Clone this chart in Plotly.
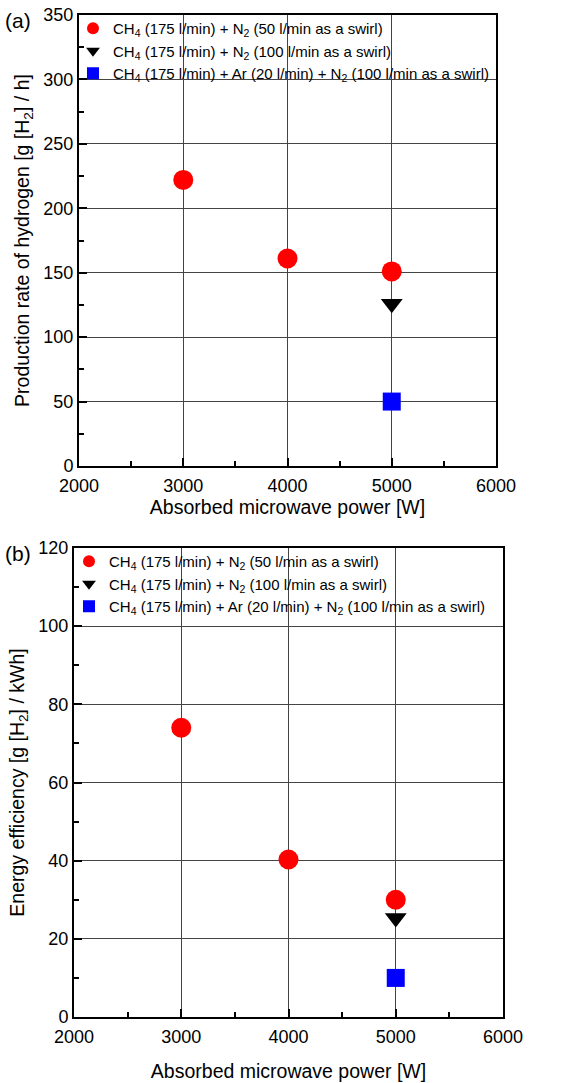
import plotly.graph_objects as go

# Data
power_a = [3000, 4000, 5000]
h2_rate_s1 = [222, 161, 151]
h2_rate_s2 = [126]
h2_rate_s3 = [50]
power_b = [5000]

eff_s1 = [74, 40.3, 30]
eff_s2 = [25.3]
eff_s3 = [10]

names = [
    "CH<sub>4</sub> (175 l/min) + N<sub>2</sub> (50 l/min as a swirl)",
    "CH<sub>4</sub> (175 l/min) + N<sub>2</sub> (100 l/min as a swirl)",
    "CH<sub>4</sub> (175 l/min) + Ar (20 l/min) + N<sub>2</sub> (100 l/min as a swirl)",
]

W, H = 568, 1083
FONT = "Liberation Sans, Arial, sans-serif"

fig = go.Figure()

styles = [
    dict(color="#ff0000", symbol="circle", size=20),
    dict(color="#000000", symbol="triangle-down", size=19),
    dict(color="#0000ff", symbol="square", size=18),
]

# Top panel
fig.add_trace(go.Scatter(x=power_a, y=h2_rate_s1, mode="markers", name=names[0],
                         marker=styles[0], xaxis="x", yaxis="y", legend="legend"))
fig.add_trace(go.Scatter(x=power_b, y=h2_rate_s2, mode="markers", name=names[1],
                         marker=styles[1], xaxis="x", yaxis="y", legend="legend"))
fig.add_trace(go.Scatter(x=power_b, y=h2_rate_s3, mode="markers", name=names[2],
                         marker=styles[2], xaxis="x", yaxis="y", legend="legend"))
# Bottom panel
fig.add_trace(go.Scatter(x=power_a, y=eff_s1, mode="markers", name=names[0],
                         marker=styles[0], xaxis="x2", yaxis="y2", legend="legend2"))
fig.add_trace(go.Scatter(x=power_b, y=eff_s2, mode="markers", name=names[1],
                         marker=styles[1], xaxis="x2", yaxis="y2", legend="legend2"))
fig.add_trace(go.Scatter(x=power_b, y=eff_s3, mode="markers", name=names[2],
                         marker=styles[2], xaxis="x2", yaxis="y2", legend="legend2"))


def px_x(p):
    return p / W


def px_y(p):
    return 1 - p / H


axis_common = dict(
    showline=True, linecolor="black", linewidth=2, mirror=True,
    ticks="inside", ticklen=8, tickwidth=2, tickcolor="black",
    showgrid=True, gridcolor="#444444", gridwidth=1,
    zeroline=False, automargin=False,
    tickfont=dict(family=FONT, size=18, color="black"),
    title_font=dict(family=FONT, size=19.5, color="black"),
)

minor_common = dict(ticks="inside", ticklen=5, tickwidth=2, tickcolor="black", showgrid=False)

fig.update_layout(
    width=W, height=H,
    margin=dict(l=0, r=0, t=0, b=0),
    paper_bgcolor="white", plot_bgcolor="white",
    font=dict(family=FONT, color="black"),
    xaxis=dict(domain=[px_x(79), px_x(496)], anchor="y", range=[2000, 6000], dtick=1000,
               minor=dict(dtick=500, **minor_common), ticklabelstandoff=2,
               title=dict(text="Absorbed microwave power [W]", standoff=5), **axis_common),
    yaxis=dict(domain=[px_y(466), px_y(15)], anchor="x", range=[0, 350], dtick=50,
               minor=dict(dtick=25, **minor_common),
               title=dict(text="Production rate of hydrogen [g [H<sub>2</sub>] / h]", standoff=9), **axis_common),
    xaxis2=dict(domain=[px_x(74), px_x(503)], anchor="y2", range=[2000, 6000], dtick=1000,
                minor=dict(dtick=500, **minor_common), ticklabelstandoff=2,
                title=dict(text="Absorbed microwave power [W]", standoff=19), **axis_common),
    yaxis2=dict(domain=[px_y(1017), px_y(548)], anchor="x2", range=[0, 120], dtick=20,
                minor=dict(dtick=10, **minor_common),
                title=dict(text="Energy efficiency [g [H<sub>2</sub>] / kWh]", standoff=9), **axis_common),
    legend=dict(x=px_x(73), y=px_y(12), xanchor="left", yanchor="top",
                bgcolor="rgba(0,0,0,0)", itemsizing="constant", tracegroupgap=0,
                font=dict(family=FONT, size=15, color="black")),
    legend2=dict(x=px_x(69), y=px_y(545), xanchor="left", yanchor="top",
                 bgcolor="rgba(0,0,0,0)", itemsizing="constant", tracegroupgap=0,
                 font=dict(family=FONT, size=15, color="black")),
    showlegend=True,
)

fig.add_annotation(text="(a)", x=px_x(3), y=px_y(20), xref="paper", yref="paper",
                   xanchor="left", yanchor="middle", showarrow=False,
                   font=dict(family=FONT, size=21, color="black"))
fig.add_annotation(text="(b)", x=px_x(3), y=px_y(553), xref="paper", yref="paper",
                   xanchor="left", yanchor="middle", showarrow=False,
                   font=dict(family=FONT, size=21, color="black"))

fig.write_html("out.html", config={"displayModeBar": False},
               post_script="document.body.style.margin='0';document.body.style.overflow='hidden';")
